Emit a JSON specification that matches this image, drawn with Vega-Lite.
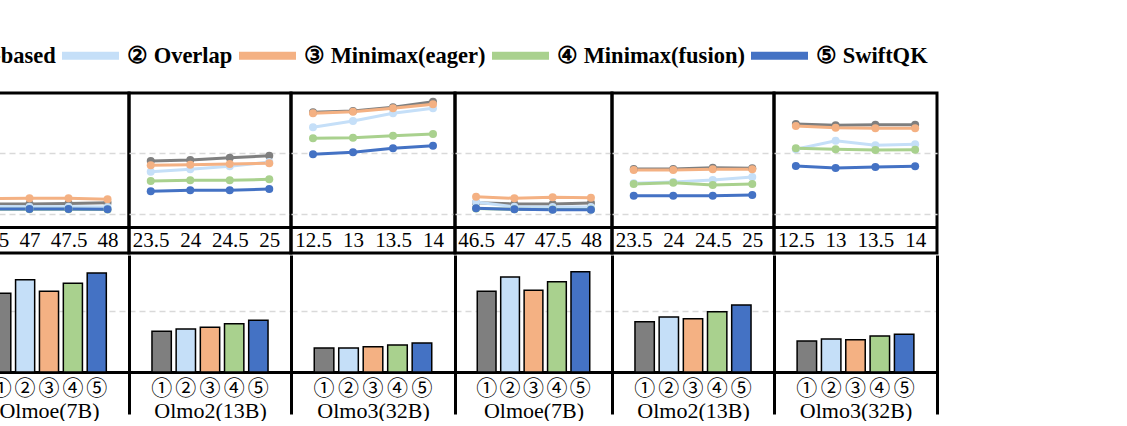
{
  "$schema": "https://vega.github.io/schema/vega-lite/v6.json",
  "background": "white",
  "padding": {"left": -159, "top": 23, "right": 0, "bottom": 0},
  "spacing": 0,
  "datasets": {
    "lines": [
      {"p": 1, "m": "① Layer-based", "x": "46.5", "v": 1.17}, {"p": 1, "m": "① Layer-based", "x": "47", "v": 1.169}, {"p": 1, "m": "① Layer-based", "x": "47.5", "v": 1.177}, {"p": 1, "m": "① Layer-based", "x": "48", "v": 1.19},
      {"p": 1, "m": "② Overlap", "x": "46.5", "v": 1.13}, {"p": 1, "m": "② Overlap", "x": "47", "v": 1.125}, {"p": 1, "m": "② Overlap", "x": "47.5", "v": 1.125}, {"p": 1, "m": "② Overlap", "x": "48", "v": 1.12},
      {"p": 1, "m": "③ Minimax(eager)", "x": "46.5", "v": 1.26}, {"p": 1, "m": "③ Minimax(eager)", "x": "47", "v": 1.262}, {"p": 1, "m": "③ Minimax(eager)", "x": "47.5", "v": 1.262}, {"p": 1, "m": "③ Minimax(eager)", "x": "48", "v": 1.246},
      {"p": 1, "m": "④ Minimax(fusion)", "x": "46.5", "v": 1.085}, {"p": 1, "m": "④ Minimax(fusion)", "x": "47", "v": 1.085}, {"p": 1, "m": "④ Minimax(fusion)", "x": "47.5", "v": 1.085}, {"p": 1, "m": "④ Minimax(fusion)", "x": "48", "v": 1.08},
      {"p": 1, "m": "⑤ SwiftQK", "x": "46.5", "v": 1.087}, {"p": 1, "m": "⑤ SwiftQK", "x": "47", "v": 1.087}, {"p": 1, "m": "⑤ SwiftQK", "x": "47.5", "v": 1.087}, {"p": 1, "m": "⑤ SwiftQK", "x": "48", "v": 1.082},
      {"p": 2, "m": "① Layer-based", "x": "23.5", "v": 1.874}, {"p": 2, "m": "① Layer-based", "x": "24", "v": 1.89}, {"p": 2, "m": "① Layer-based", "x": "24.5", "v": 1.928}, {"p": 2, "m": "① Layer-based", "x": "25", "v": 1.961},
      {"p": 2, "m": "② Overlap", "x": "23.5", "v": 1.698}, {"p": 2, "m": "② Overlap", "x": "24", "v": 1.738}, {"p": 2, "m": "② Overlap", "x": "24.5", "v": 1.787}, {"p": 2, "m": "② Overlap", "x": "25", "v": 1.857},
      {"p": 2, "m": "③ Minimax(eager)", "x": "23.5", "v": 1.803}, {"p": 2, "m": "③ Minimax(eager)", "x": "24", "v": 1.813}, {"p": 2, "m": "③ Minimax(eager)", "x": "24.5", "v": 1.825}, {"p": 2, "m": "③ Minimax(eager)", "x": "25", "v": 1.836},
      {"p": 2, "m": "④ Minimax(fusion)", "x": "23.5", "v": 1.546}, {"p": 2, "m": "④ Minimax(fusion)", "x": "24", "v": 1.557}, {"p": 2, "m": "④ Minimax(fusion)", "x": "24.5", "v": 1.557}, {"p": 2, "m": "④ Minimax(fusion)", "x": "25", "v": 1.574},
      {"p": 2, "m": "⑤ SwiftQK", "x": "23.5", "v": 1.377}, {"p": 2, "m": "⑤ SwiftQK", "x": "24", "v": 1.393}, {"p": 2, "m": "⑤ SwiftQK", "x": "24.5", "v": 1.393}, {"p": 2, "m": "⑤ SwiftQK", "x": "25", "v": 1.415},
      {"p": 3, "m": "① Layer-based", "x": "12.5", "v": 2.672}, {"p": 3, "m": "① Layer-based", "x": "13", "v": 2.693}, {"p": 3, "m": "① Layer-based", "x": "13.5", "v": 2.754}, {"p": 3, "m": "① Layer-based", "x": "14", "v": 2.846},
      {"p": 3, "m": "② Overlap", "x": "12.5", "v": 2.426}, {"p": 3, "m": "② Overlap", "x": "13", "v": 2.53}, {"p": 3, "m": "② Overlap", "x": "13.5", "v": 2.656}, {"p": 3, "m": "② Overlap", "x": "14", "v": 2.738},
      {"p": 3, "m": "③ Minimax(eager)", "x": "12.5", "v": 2.656}, {"p": 3, "m": "③ Minimax(eager)", "x": "13", "v": 2.682}, {"p": 3, "m": "③ Minimax(eager)", "x": "13.5", "v": 2.738}, {"p": 3, "m": "③ Minimax(eager)", "x": "14", "v": 2.803},
      {"p": 3, "m": "④ Minimax(fusion)", "x": "12.5", "v": 2.246}, {"p": 3, "m": "④ Minimax(fusion)", "x": "13", "v": 2.256}, {"p": 3, "m": "④ Minimax(fusion)", "x": "13.5", "v": 2.289}, {"p": 3, "m": "④ Minimax(fusion)", "x": "14", "v": 2.316},
      {"p": 3, "m": "⑤ SwiftQK", "x": "12.5", "v": 1.984}, {"p": 3, "m": "⑤ SwiftQK", "x": "13", "v": 2.016}, {"p": 3, "m": "⑤ SwiftQK", "x": "13.5", "v": 2.082}, {"p": 3, "m": "⑤ SwiftQK", "x": "14", "v": 2.125},
      {"p": 4, "m": "① Layer-based", "x": "46.5", "v": 1.19}, {"p": 4, "m": "① Layer-based", "x": "47", "v": 1.169}, {"p": 4, "m": "① Layer-based", "x": "47.5", "v": 1.169}, {"p": 4, "m": "① Layer-based", "x": "48", "v": 1.185},
      {"p": 4, "m": "② Overlap", "x": "46.5", "v": 1.202}, {"p": 4, "m": "② Overlap", "x": "47", "v": 1.125}, {"p": 4, "m": "② Overlap", "x": "47.5", "v": 1.12}, {"p": 4, "m": "② Overlap", "x": "48", "v": 1.12},
      {"p": 4, "m": "③ Minimax(eager)", "x": "46.5", "v": 1.289}, {"p": 4, "m": "③ Minimax(eager)", "x": "47", "v": 1.262}, {"p": 4, "m": "③ Minimax(eager)", "x": "47.5", "v": 1.279}, {"p": 4, "m": "③ Minimax(eager)", "x": "48", "v": 1.272},
      {"p": 4, "m": "④ Minimax(fusion)", "x": "46.5", "v": 1.095}, {"p": 4, "m": "④ Minimax(fusion)", "x": "47", "v": 1.082}, {"p": 4, "m": "④ Minimax(fusion)", "x": "47.5", "v": 1.079}, {"p": 4, "m": "④ Minimax(fusion)", "x": "48", "v": 1.079},
      {"p": 4, "m": "⑤ SwiftQK", "x": "46.5", "v": 1.098}, {"p": 4, "m": "⑤ SwiftQK", "x": "47", "v": 1.082}, {"p": 4, "m": "⑤ SwiftQK", "x": "47.5", "v": 1.075}, {"p": 4, "m": "⑤ SwiftQK", "x": "48", "v": 1.075},
      {"p": 5, "m": "① Layer-based", "x": "23.5", "v": 1.743}, {"p": 5, "m": "① Layer-based", "x": "24", "v": 1.743}, {"p": 5, "m": "① Layer-based", "x": "24.5", "v": 1.764}, {"p": 5, "m": "① Layer-based", "x": "25", "v": 1.754},
      {"p": 5, "m": "② Overlap", "x": "23.5", "v": 1.508}, {"p": 5, "m": "② Overlap", "x": "24", "v": 1.53}, {"p": 5, "m": "② Overlap", "x": "24.5", "v": 1.562}, {"p": 5, "m": "② Overlap", "x": "25", "v": 1.611},
      {"p": 5, "m": "③ Minimax(eager)", "x": "23.5", "v": 1.726}, {"p": 5, "m": "③ Minimax(eager)", "x": "24", "v": 1.726}, {"p": 5, "m": "③ Minimax(eager)", "x": "24.5", "v": 1.738}, {"p": 5, "m": "③ Minimax(eager)", "x": "25", "v": 1.738},
      {"p": 5, "m": "④ Minimax(fusion)", "x": "23.5", "v": 1.497}, {"p": 5, "m": "④ Minimax(fusion)", "x": "24", "v": 1.518}, {"p": 5, "m": "④ Minimax(fusion)", "x": "24.5", "v": 1.48}, {"p": 5, "m": "④ Minimax(fusion)", "x": "25", "v": 1.497},
      {"p": 5, "m": "⑤ SwiftQK", "x": "23.5", "v": 1.305}, {"p": 5, "m": "⑤ SwiftQK", "x": "24", "v": 1.305}, {"p": 5, "m": "⑤ SwiftQK", "x": "24.5", "v": 1.305}, {"p": 5, "m": "⑤ SwiftQK", "x": "25", "v": 1.316},
      {"p": 6, "m": "① Layer-based", "x": "12.5", "v": 2.48}, {"p": 6, "m": "① Layer-based", "x": "13", "v": 2.459}, {"p": 6, "m": "① Layer-based", "x": "13.5", "v": 2.469}, {"p": 6, "m": "① Layer-based", "x": "14", "v": 2.469},
      {"p": 6, "m": "② Overlap", "x": "12.5", "v": 2.066}, {"p": 6, "m": "② Overlap", "x": "13", "v": 2.207}, {"p": 6, "m": "② Overlap", "x": "13.5", "v": 2.131}, {"p": 6, "m": "② Overlap", "x": "14", "v": 2.148},
      {"p": 6, "m": "③ Minimax(eager)", "x": "12.5", "v": 2.448}, {"p": 6, "m": "③ Minimax(eager)", "x": "13", "v": 2.42}, {"p": 6, "m": "③ Minimax(eager)", "x": "13.5", "v": 2.41}, {"p": 6, "m": "③ Minimax(eager)", "x": "14", "v": 2.41},
      {"p": 6, "m": "④ Minimax(fusion)", "x": "12.5", "v": 2.082}, {"p": 6, "m": "④ Minimax(fusion)", "x": "13", "v": 2.066}, {"p": 6, "m": "④ Minimax(fusion)", "x": "13.5", "v": 2.054}, {"p": 6, "m": "④ Minimax(fusion)", "x": "14", "v": 2.059},
      {"p": 6, "m": "⑤ SwiftQK", "x": "12.5", "v": 1.792}, {"p": 6, "m": "⑤ SwiftQK", "x": "13", "v": 1.759}, {"p": 6, "m": "⑤ SwiftQK", "x": "13.5", "v": 1.775}, {"p": 6, "m": "⑤ SwiftQK", "x": "14", "v": 1.787}
    ],
    "bars": [
      {"p": 1, "m": "① Layer-based", "v": 1.29}, {"p": 1, "m": "② Overlap", "v": 1.513}, {"p": 1, "m": "③ Minimax(eager)", "v": 1.323}, {"p": 1, "m": "④ Minimax(fusion)", "v": 1.454}, {"p": 1, "m": "⑤ SwiftQK", "v": 1.623},
      {"p": 2, "m": "① Layer-based", "v": 0.667}, {"p": 2, "m": "② Overlap", "v": 0.705}, {"p": 2, "m": "③ Minimax(eager)", "v": 0.733}, {"p": 2, "m": "④ Minimax(fusion)", "v": 0.792}, {"p": 2, "m": "⑤ SwiftQK", "v": 0.848},
      {"p": 3, "m": "① Layer-based", "v": 0.393}, {"p": 3, "m": "② Overlap", "v": 0.393}, {"p": 3, "m": "③ Minimax(eager)", "v": 0.415}, {"p": 3, "m": "④ Minimax(fusion)", "v": 0.443}, {"p": 3, "m": "⑤ SwiftQK", "v": 0.475},
      {"p": 4, "m": "① Layer-based", "v": 1.323}, {"p": 4, "m": "② Overlap", "v": 1.557}, {"p": 4, "m": "③ Minimax(eager)", "v": 1.339}, {"p": 4, "m": "④ Minimax(fusion)", "v": 1.48}, {"p": 4, "m": "⑤ SwiftQK", "v": 1.644},
      {"p": 5, "m": "① Layer-based", "v": 0.825}, {"p": 5, "m": "② Overlap", "v": 0.902}, {"p": 5, "m": "③ Minimax(eager)", "v": 0.874}, {"p": 5, "m": "④ Minimax(fusion)", "v": 0.989}, {"p": 5, "m": "⑤ SwiftQK", "v": 1.098},
      {"p": 6, "m": "① Layer-based", "v": 0.508}, {"p": 6, "m": "② Overlap", "v": 0.541}, {"p": 6, "m": "③ Minimax(eager)", "v": 0.53}, {"p": 6, "m": "④ Minimax(fusion)", "v": 0.59}, {"p": 6, "m": "⑤ SwiftQK", "v": 0.618}
    ]
  },
  "vconcat": [
    {
      "bounds": "flush",
      "spacing": 0,
      "hconcat": [
        {
          "width": 160, "height": 160,
          "data": {"name": "lines"},
          "transform": [{"filter": "datum.p == 1"}],
          "encoding": {
            "x": {"field": "x", "type": "ordinal", "scale": {"type": "point", "padding": 0.55}, "axis": {"title": null, "offset": -26, "labelPadding": 2, "labelDx": 4, "labelAngle": 0}},
            "y": {"field": "v", "type": "quantitative", "scale": {"domain": [0.366, 2.989], "nice": false, "zero": false}, "axis": {"title": null, "labels": false, "domain": false, "grid": true, "values": [1, 2]}}
          },
          "layer": [
            {"mark": {"type": "line", "strokeWidth": 3}, "encoding": {"color": {"field": "m", "type": "nominal", "scale": {"domain": ["① Layer-based", "② Overlap", "③ Minimax(eager)", "④ Minimax(fusion)", "⑤ SwiftQK"], "range": ["#7f7f7f", "#c5dff8", "#f4b183", "#a9d18e", "#4472c4"]}, "legend": {"symbolType": "stroke", "symbolStrokeWidth": 8, "symbolSize": 3249}}}},
            {"mark": {"type": "point", "filled": true, "size": 64, "opacity": 1}, "encoding": {"fill": {"field": "m", "type": "nominal", "scale": {"domain": ["① Layer-based", "② Overlap", "③ Minimax(eager)", "④ Minimax(fusion)", "⑤ SwiftQK"], "range": ["#7f7f7f", "#c5dff8", "#f4b183", "#a9d18e", "#4472c4"]}, "legend": null}}}
          ]
        },
        {
          "width": 162, "height": 160,
          "data": {"name": "lines"},
          "transform": [{"filter": "datum.p == 2"}],
          "encoding": {
            "x": {"field": "x", "type": "ordinal", "scale": {"type": "point", "padding": 0.55}, "axis": {"title": null, "offset": -26, "labelPadding": 2, "labelDx": 4, "labelAngle": 0}},
            "y": {"field": "v", "type": "quantitative", "scale": {"domain": [0.366, 2.989], "nice": false, "zero": false}, "axis": {"title": null, "labels": false, "domain": false, "grid": true, "values": [1, 2]}}
          },
          "layer": [
            {"mark": {"type": "line", "strokeWidth": 3}, "encoding": {"color": {"field": "m", "type": "nominal", "legend": {"symbolType": "stroke", "symbolStrokeWidth": 8, "symbolSize": 3249}}}},
            {"mark": {"type": "point", "filled": true, "size": 64, "opacity": 1}, "encoding": {"fill": {"field": "m", "type": "nominal", "legend": null}}}
          ]
        },
        {
          "width": 164, "height": 160,
          "data": {"name": "lines"},
          "transform": [{"filter": "datum.p == 3"}],
          "encoding": {
            "x": {"field": "x", "type": "ordinal", "scale": {"type": "point", "padding": 0.55}, "axis": {"title": null, "offset": -26, "labelPadding": 2, "labelDx": 4, "labelAngle": 0}},
            "y": {"field": "v", "type": "quantitative", "scale": {"domain": [0.366, 2.989], "nice": false, "zero": false}, "axis": {"title": null, "labels": false, "domain": false, "grid": true, "values": [1, 2]}}
          },
          "layer": [
            {"mark": {"type": "line", "strokeWidth": 3}, "encoding": {"color": {"field": "m", "type": "nominal", "legend": {"symbolType": "stroke", "symbolStrokeWidth": 8, "symbolSize": 3249}}}},
            {"mark": {"type": "point", "filled": true, "size": 64, "opacity": 1}, "encoding": {"fill": {"field": "m", "type": "nominal", "legend": null}}}
          ]
        },
        {
          "width": 157, "height": 160,
          "data": {"name": "lines"},
          "transform": [{"filter": "datum.p == 4"}],
          "encoding": {
            "x": {"field": "x", "type": "ordinal", "scale": {"type": "point", "padding": 0.55}, "axis": {"title": null, "offset": -26, "labelPadding": 2, "labelDx": 4, "labelAngle": 0}},
            "y": {"field": "v", "type": "quantitative", "scale": {"domain": [0.366, 2.989], "nice": false, "zero": false}, "axis": {"title": null, "labels": false, "domain": false, "grid": true, "values": [1, 2]}}
          },
          "layer": [
            {"mark": {"type": "line", "strokeWidth": 3}, "encoding": {"color": {"field": "m", "type": "nominal", "legend": {"symbolType": "stroke", "symbolStrokeWidth": 8, "symbolSize": 3249}}}},
            {"mark": {"type": "point", "filled": true, "size": 64, "opacity": 1}, "encoding": {"fill": {"field": "m", "type": "nominal", "legend": null}}}
          ]
        },
        {
          "width": 162, "height": 160,
          "data": {"name": "lines"},
          "transform": [{"filter": "datum.p == 5"}],
          "encoding": {
            "x": {"field": "x", "type": "ordinal", "scale": {"type": "point", "padding": 0.55}, "axis": {"title": null, "offset": -26, "labelPadding": 2, "labelDx": 4, "labelAngle": 0}},
            "y": {"field": "v", "type": "quantitative", "scale": {"domain": [0.366, 2.989], "nice": false, "zero": false}, "axis": {"title": null, "labels": false, "domain": false, "grid": true, "values": [1, 2]}}
          },
          "layer": [
            {"mark": {"type": "line", "strokeWidth": 3}, "encoding": {"color": {"field": "m", "type": "nominal", "legend": {"symbolType": "stroke", "symbolStrokeWidth": 8, "symbolSize": 3249}}}},
            {"mark": {"type": "point", "filled": true, "size": 64, "opacity": 1}, "encoding": {"fill": {"field": "m", "type": "nominal", "legend": null}}}
          ]
        },
        {
          "width": 163, "height": 160,
          "data": {"name": "lines"},
          "transform": [{"filter": "datum.p == 6"}],
          "encoding": {
            "x": {"field": "x", "type": "ordinal", "scale": {"type": "point", "padding": 0.55}, "axis": {"title": null, "offset": -26, "labelPadding": 2, "labelDx": 4, "labelAngle": 0}},
            "y": {"field": "v", "type": "quantitative", "scale": {"domain": [0.366, 2.989], "nice": false, "zero": false}, "axis": {"title": null, "labels": false, "domain": false, "grid": true, "values": [1, 2]}}
          },
          "layer": [
            {"mark": {"type": "line", "strokeWidth": 3}, "encoding": {"color": {"field": "m", "type": "nominal", "legend": {"symbolType": "stroke", "symbolStrokeWidth": 8, "symbolSize": 3249}}}},
            {"mark": {"type": "point", "filled": true, "size": 64, "opacity": 1}, "encoding": {"fill": {"field": "m", "type": "nominal", "legend": null}}}
          ]
        }
      ]
    },
    {
      "bounds": "flush",
      "spacing": 0,
      "hconcat": [
        {
          "width": 160, "height": 159,
          "view": {"stroke": null},
          "data": {"name": "bars"},
          "transform": [{"filter": "datum.p == 1"}],
          "mark": {"type": "bar", "stroke": "black", "strokeWidth": 1.5},
          "encoding": {
            "x": {"field": "m", "type": "nominal", "sort": null, "scale": {"paddingInner": 0.2, "paddingOuter": 0.95}, "axis": {"title": "Olmoe(7B)", "offset": -42, "labelExpr": "substring(datum.label, 0, 1)", "labelFont": "Noto Sans CJK JP", "labelPadding": 5, "labelAngle": 0, "titlePadding": 2}},
            "y": {"field": "v", "type": "quantitative", "scale": {"domain": [-0.689, 1.918], "nice": false}, "axis": {"title": null, "labels": false, "grid": true, "values": [1]}},
            "fill": {"field": "m", "type": "nominal", "legend": null}
          }
        },
        {
          "width": 162, "height": 159,
          "view": {"stroke": null},
          "data": {"name": "bars"},
          "transform": [{"filter": "datum.p == 2"}],
          "mark": {"type": "bar", "stroke": "black", "strokeWidth": 1.5},
          "encoding": {
            "x": {"field": "m", "type": "nominal", "sort": null, "scale": {"paddingInner": 0.2, "paddingOuter": 0.95}, "axis": {"title": "Olmo2(13B)", "offset": -42, "labelExpr": "substring(datum.label, 0, 1)", "labelFont": "Noto Sans CJK JP", "labelPadding": 5, "labelAngle": 0, "titlePadding": 2}},
            "y": {"field": "v", "type": "quantitative", "scale": {"domain": [-0.689, 1.918], "nice": false}, "axis": {"title": null, "labels": false, "grid": true, "values": [1]}},
            "fill": {"field": "m", "type": "nominal", "legend": null}
          }
        },
        {
          "width": 164, "height": 159,
          "view": {"stroke": null},
          "data": {"name": "bars"},
          "transform": [{"filter": "datum.p == 3"}],
          "mark": {"type": "bar", "stroke": "black", "strokeWidth": 1.5},
          "encoding": {
            "x": {"field": "m", "type": "nominal", "sort": null, "scale": {"paddingInner": 0.2, "paddingOuter": 0.95}, "axis": {"title": "Olmo3(32B)", "offset": -42, "labelExpr": "substring(datum.label, 0, 1)", "labelFont": "Noto Sans CJK JP", "labelPadding": 5, "labelAngle": 0, "titlePadding": 2}},
            "y": {"field": "v", "type": "quantitative", "scale": {"domain": [-0.689, 1.918], "nice": false}, "axis": {"title": null, "labels": false, "grid": true, "values": [1]}},
            "fill": {"field": "m", "type": "nominal", "legend": null}
          }
        },
        {
          "width": 157, "height": 159,
          "view": {"stroke": null},
          "data": {"name": "bars"},
          "transform": [{"filter": "datum.p == 4"}],
          "mark": {"type": "bar", "stroke": "black", "strokeWidth": 1.5},
          "encoding": {
            "x": {"field": "m", "type": "nominal", "sort": null, "scale": {"paddingInner": 0.2, "paddingOuter": 0.95}, "axis": {"title": "Olmoe(7B)", "offset": -42, "labelExpr": "substring(datum.label, 0, 1)", "labelFont": "Noto Sans CJK JP", "labelPadding": 5, "labelAngle": 0, "titlePadding": 2}},
            "y": {"field": "v", "type": "quantitative", "scale": {"domain": [-0.689, 1.918], "nice": false}, "axis": {"title": null, "labels": false, "grid": true, "values": [1]}},
            "fill": {"field": "m", "type": "nominal", "legend": null}
          }
        },
        {
          "width": 162, "height": 159,
          "view": {"stroke": null},
          "data": {"name": "bars"},
          "transform": [{"filter": "datum.p == 5"}],
          "mark": {"type": "bar", "stroke": "black", "strokeWidth": 1.5},
          "encoding": {
            "x": {"field": "m", "type": "nominal", "sort": null, "scale": {"paddingInner": 0.2, "paddingOuter": 0.95}, "axis": {"title": "Olmo2(13B)", "offset": -42, "labelExpr": "substring(datum.label, 0, 1)", "labelFont": "Noto Sans CJK JP", "labelPadding": 5, "labelAngle": 0, "titlePadding": 2}},
            "y": {"field": "v", "type": "quantitative", "scale": {"domain": [-0.689, 1.918], "nice": false}, "axis": {"title": null, "labels": false, "grid": true, "values": [1]}},
            "fill": {"field": "m", "type": "nominal", "legend": null}
          }
        },
        {
          "width": 163, "height": 159,
          "view": {"stroke": null},
          "data": {"name": "bars"},
          "transform": [{"filter": "datum.p == 6"}],
          "encoding": {
            "x": {"field": "m", "type": "nominal", "sort": null, "scale": {"paddingInner": 0.2, "paddingOuter": 0.95}, "axis": {"title": "Olmo3(32B)", "offset": -42, "labelExpr": "substring(datum.label, 0, 1)", "labelFont": "Noto Sans CJK JP", "labelPadding": 5, "labelAngle": 0, "titlePadding": 2}},
            "y": {"field": "v", "type": "quantitative", "scale": {"domain": [-0.689, 1.918], "nice": false}}
          },
          "layer": [
            {
              "mark": {"type": "bar", "stroke": "black", "strokeWidth": 1.5},
              "encoding": {
                "y": {"field": "v", "type": "quantitative", "axis": {"title": null, "labels": false, "grid": true, "values": [1]}},
                "fill": {"field": "m", "type": "nominal", "legend": null}
              }
            },
            {
              "mark": {"type": "bar", "opacity": 0},
              "encoding": {
                "y": {"field": "v", "type": "quantitative", "axis": {"title": null, "labels": false, "grid": false, "orient": "right", "values": [1]}}
              }
            }
          ],
          "resolve": {"axis": {"y": "independent"}}
        }
      ]
    }
  ],
  "config": {
    "view": {"stroke": "black", "strokeWidth": 3},
    "axis": {
      "labelFont": "Liberation Serif", "labelFontSize": 21, "labelColor": "black",
      "domainColor": "black", "domainWidth": 3, "ticks": false, "tickSize": 0,
      "gridColor": "#d9d9d9", "gridDash": [6, 4], "gridWidth": 1.5,
      "titleFont": "Liberation Serif", "titleFontSize": 22, "titleFontWeight": "normal", "titleColor": "black",
      "labelOverlap": false, "minExtent": 0
    },
    "legend": {
      "orient": "none", "legendX": -128, "legendY": -70, "direction": "horizontal",
      "title": null, "symbolType": "stroke", "symbolStrokeWidth": 8, "symbolSize": 3249,
      "labelFont": "Liberation Serif", "labelFontSize": 22.5, "labelFontWeight": "bold", "labelColor": "black",
      "labelOffset": 4, "columnPadding": -10, "labelLimit": 400
    }
  }
}
